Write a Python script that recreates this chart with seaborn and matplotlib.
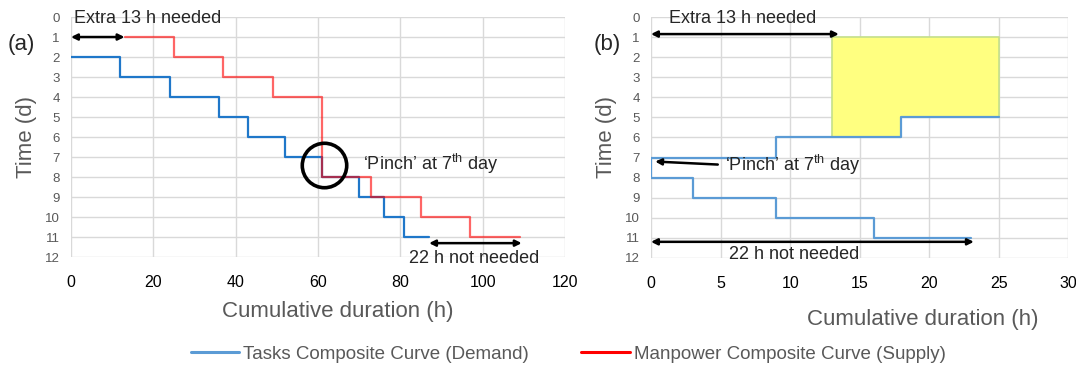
import matplotlib
matplotlib.use("Agg")
import matplotlib.pyplot as plt
from matplotlib.lines import Line2D
import seaborn as sns

# (a) composite curves: step-post breakpoints (cumulative hours, day)
tasks_hours = [0, 12, 24, 36, 43, 52, 61, 70, 76, 81, 87]
tasks_days = [2, 3, 4, 5, 6, 7, 8, 9, 10, 11, 11]
manpower_hours = [13, 25, 37, 49, 61, 73, 85, 97, 109]
manpower_days = [1, 2, 3, 4, 8, 9, 10, 11, 11]

# (b) grand composite curve, drawn in path order
grand_hours = [25, 18, 18, 9, 9, 0, 0, 3, 3, 9, 9, 16, 16, 23]
grand_days = [5, 5, 6, 6, 7, 7, 8, 8, 9, 9, 10, 10, 11, 11]

# shaded surplus region in (b)
surplus_hours = [13, 18, 25]
surplus_days = [6, 5, 5]

day_ticks = list(range(0, 13))
hour_ticks_a = [0, 20, 40, 60, 80, 100, 120]
hour_ticks_b = [0, 5, 10, 15, 20, 25, 30]

BLUE_A = "#1f77c9"
BLUE_B = "#5b9bd5"
RED = "#ff0000"
GRAY = "#595959"

sns.set_style("whitegrid")
plt.rcParams["font.family"] = ["Liberation Sans", "DejaVu Sans"]
plt.rcParams["mathtext.fontset"] = "custom"
plt.rcParams["mathtext.rm"] = "Liberation Sans"

fig = plt.figure(figsize=(10.76, 3.70), dpi=100)
ax_a = fig.add_axes([0.066, 0.305, 0.459, 0.649])
ax_b = fig.add_axes([0.605, 0.303, 0.388, 0.651])


def style_axes(ax, xticks):
    ax.set_ylim(12, 0)
    ax.set_xlim(xticks[0], xticks[-1])
    ax.set_yticks(day_ticks)
    ax.set_xticks(xticks)
    ax.grid(True, color="#d9d9d9", linewidth=1.0)
    for s in ax.spines.values():
        s.set_visible(False)
    ax.tick_params(axis="y", labelsize=9.5, labelcolor=GRAY, pad=8, length=0)
    ax.tick_params(axis="x", labelsize=11.5, labelcolor="black", pad=13, length=0)
    ax.set_ylabel("Time (d)", fontsize=16, color=GRAY, labelpad=6)


# ---- panel (a)
sns.lineplot(x=tasks_hours, y=tasks_days, ax=ax_a, color=BLUE_A, linewidth=1.6,
             drawstyle="steps-post", sort=False, estimator=None)
sns.lineplot(x=manpower_hours, y=manpower_days, ax=ax_a, color=RED, alpha=0.6,
             linewidth=1.6, drawstyle="steps-post", sort=False, estimator=None)
style_axes(ax_a, hour_ticks_a)
ax_a.set_xlabel("Cumulative duration (h)", fontsize=16, color=GRAY, labelpad=8, x=0.54)

ax_a.annotate("", xy=(0, 1), xytext=(13, 1),
              arrowprops=dict(arrowstyle="<|-|>", color="black", lw=1.8,
                              mutation_scale=9, shrinkA=0, shrinkB=0))
ax_a.text(0.8, 0.05, "Extra 13 h needed", fontsize=13, va="center", ha="left")
ax_a.annotate("", xy=(87, 11.3), xytext=(109.5, 11.3),
              arrowprops=dict(arrowstyle="<|-|>", color="black", lw=1.8,
                              mutation_scale=9, shrinkA=0, shrinkB=0))
ax_a.text(98, 12.05, "22 h not needed", fontsize=13, va="center", ha="center")
ax_a.plot(61.5, 7.4, "o", ms=32, mfc="none", mec="black", mew=2.6, clip_on=False)
ax_a.text(71, 7.35, "‘Pinch’ at 7$^{\\rm th}$ day", fontsize=13, va="center", ha="left")

# ---- panel (b)
ax_b.fill_between(surplus_hours, 1, surplus_days, step="post",
                  facecolor="#ffff80", edgecolor="#c5e08a", linewidth=1.2, zorder=2)
sns.lineplot(x=grand_hours, y=grand_days, ax=ax_b, color=BLUE_B, linewidth=1.6,
             sort=False, estimator=None)
style_axes(ax_b, hour_ticks_b)
ax_b.set_xlabel("Cumulative duration (h)", fontsize=16, color=GRAY, labelpad=13, x=0.65)

ax_b.annotate("", xy=(0, 0.85), xytext=(13.5, 0.85),
              arrowprops=dict(arrowstyle="<|-|>", color="black", lw=1.8,
                              mutation_scale=9, shrinkA=0, shrinkB=0))
ax_b.text(1.3, 0.05, "Extra 13 h needed", fontsize=13, va="center", ha="left")
ax_b.annotate("", xy=(0, 11.2), xytext=(23.2, 11.2),
              arrowprops=dict(arrowstyle="<|-|>", color="black", lw=1.8,
                              mutation_scale=9, shrinkA=0, shrinkB=0))
ax_b.text(10.3, 11.85, "22 h not needed", fontsize=13, va="center", ha="center")
ax_b.annotate("", xy=(0.3, 7.2), xytext=(4.8, 7.35),
              arrowprops=dict(arrowstyle="-|>", color="black", lw=1.8,
                              mutation_scale=9, shrinkA=0, shrinkB=0))
ax_b.text(5.3, 7.35, "‘Pinch’ at 7$^{\\rm th}$ day", fontsize=13, va="center", ha="left")

fig.text(0.007, 0.865, "(a)", fontsize=16)
fig.text(0.552, 0.865, "(b)", fontsize=16)

handles = [Line2D([0], [0], color=BLUE_B, lw=2.2),
           Line2D([0], [0], color=RED, lw=2.2)]
leg = fig.legend(handles, ["Tasks Composite Curve (Demand)",
                           "Manpower Composite Curve (Supply)"],
                 loc="center", bbox_to_anchor=(0.528, 0.043), ncol=2, frameon=False,
                 fontsize=13.5, handlelength=2.6, handletextpad=0.2, columnspacing=2.8)
for t in leg.get_texts():
    t.set_color(GRAY)

fig.savefig("out.png", dpi=100)
